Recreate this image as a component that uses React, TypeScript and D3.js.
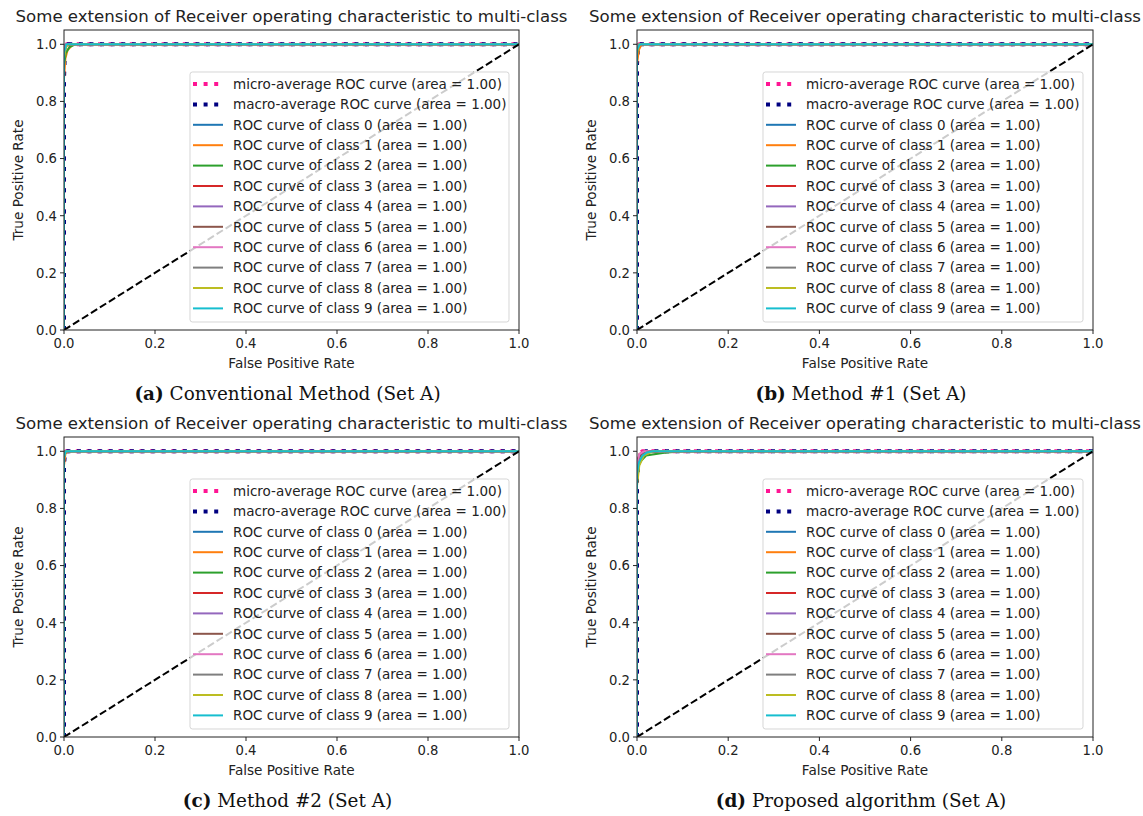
import React from "react";
import * as d3 from "d3";

const W = 1143;
const H = 816;

const titleText = "Some extension of Receiver operating characteristic to multi-class";
const xTicks = [0, 0.2, 0.4, 0.6, 0.8, 1.0];
const yTicks = [0, 0.2, 0.4, 0.6, 0.8, 1.0];
const classIds = [0, 1, 2, 3, 4, 5, 6, 7, 8, 9];
const classColors = ["#1f77b4", "#ff7f0e", "#2ca02c", "#d62728", "#9467bd", "#8c564b", "#e377c2", "#7f7f7f", "#bcbd22", "#17becf"];
const aucs = [1.0, 1.0, 1.0, 1.0, 1.0, 1.0, 1.0, 1.0, 1.0, 1.0];
const microAuc = 1.0;
const macroAuc = 1.0;
const captionLetters = ["(a)", "(b)", "(c)", "(d)"];
const captionNames = ["Conventional Method (Set A)", "Method #1 (Set A)", "Method #2 (Set A)", "Proposed algorithm (Set A)"];

// micro / macro average ROC points [fpr, tpr] per panel
const microA = [[0, 0], [0, 0.985], [0.002, 0.995], [0.006, 1], [1, 1]];
const macroA = [[0, 0], [0, 0.88], [0.002, 0.97], [0.01, 1], [1, 1]];
const microB = [[0, 0], [0, 0.99], [0.002, 1], [1, 1]];
const macroB = [[0, 0], [0, 0.93], [0.002, 0.98], [0.006, 1], [1, 1]];
const microC = [[0, 0], [0, 0.99], [0.002, 1], [1, 1]];
const macroC = [[0, 0], [0, 0.95], [0.002, 0.99], [0.005, 1], [1, 1]];
const microD = [[0, 0], [0, 0.97], [0.004, 0.99], [0.012, 1], [1, 1]];
const macroD = [[0, 0], [0, 0.9], [0.004, 0.97], [0.02, 1], [1, 1]];

// per-class ROC points [fpr, tpr]
const classesA = [
  [[0, 0], [0, 0.96], [0.004, 1], [1, 1]],
  [[0, 0], [0, 0.88], [0.003, 0.95], [0.008, 0.98], [0.02, 1], [1, 1]],
  [[0, 0], [0, 0.93], [0.004, 0.97], [0.012, 0.99], [0.025, 1], [1, 1]],
  [[0, 0], [0, 0.97], [0.004, 1], [1, 1]],
  [[0, 0], [0, 0.98], [0.003, 1], [1, 1]],
  [[0, 0], [0, 0.97], [0.005, 1], [1, 1]],
  [[0, 0], [0, 0.98], [0.004, 1], [1, 1]],
  [[0, 0], [0, 0.96], [0.006, 1], [1, 1]],
  [[0, 0], [0, 0.95], [0.004, 0.99], [0.01, 1], [1, 1]],
  [[0, 0], [0, 0.97], [0.005, 1], [1, 1]],
];
const classesB = [
  [[0, 0], [0, 0.98], [0.003, 1], [1, 1]],
  [[0, 0], [0, 0.93], [0.004, 0.98], [0.01, 1], [1, 1]],
  [[0, 0], [0, 0.97], [0.004, 1], [1, 1]],
  [[0, 0], [0, 0.98], [0.002, 1], [1, 1]],
  [[0, 0], [0, 0.99], [0.002, 1], [1, 1]],
  [[0, 0], [0, 0.98], [0.003, 1], [1, 1]],
  [[0, 0], [0, 0.99], [0.002, 1], [1, 1]],
  [[0, 0], [0, 0.97], [0.004, 1], [1, 1]],
  [[0, 0], [0, 0.97], [0.005, 1], [1, 1]],
  [[0, 0], [0, 0.98], [0.006, 1], [1, 1]],
];
const classesC = [
  [[0, 0], [0, 0.99], [0.002, 1], [1, 1]],
  [[0, 0], [0, 0.95], [0.003, 0.99], [0.008, 1], [1, 1]],
  [[0, 0], [0, 0.98], [0.004, 1], [1, 1]],
  [[0, 0], [0, 0.99], [0.002, 1], [1, 1]],
  [[0, 0], [0, 0.99], [0.002, 1], [1, 1]],
  [[0, 0], [0, 0.98], [0.003, 1], [1, 1]],
  [[0, 0], [0, 0.99], [0.002, 1], [1, 1]],
  [[0, 0], [0, 0.98], [0.003, 1], [1, 1]],
  [[0, 0], [0, 0.98], [0.004, 1], [1, 1]],
  [[0, 0], [0, 0.98], [0.004, 1], [1, 1]],
];
const classesD = [
  [[0, 0], [0, 0.93], [0.005, 0.98], [0.015, 1], [1, 1]],
  [[0, 0], [0, 0.9], [0.004, 0.95], [0.012, 0.98], [0.03, 1], [1, 1]],
  [[0, 0], [0, 0.9], [0.005, 0.96], [0.02, 0.985], [0.06, 0.995], [0.1, 1], [1, 1]],
  [[0, 0], [0, 0.95], [0.005, 0.99], [0.015, 1], [1, 1]],
  [[0, 0], [0, 0.94], [0.006, 0.985], [0.02, 1], [1, 1]],
  [[0, 0], [0, 0.93], [0.005, 0.98], [0.02, 1], [1, 1]],
  [[0, 0], [0, 0.95], [0.005, 0.99], [0.015, 1], [1, 1]],
  [[0, 0], [0, 0.92], [0.006, 0.97], [0.02, 0.995], [0.03, 1], [1, 1]],
  [[0, 0], [0, 0.88], [0.005, 0.95], [0.015, 0.985], [0.035, 1], [1, 1]],
  [[0, 0], [0, 0.92], [0.004, 0.96], [0.012, 0.985], [0.022, 0.996], [0.035, 1], [1, 1]],
];

const panelMicro = [microA, microB, microC, microD];
const panelMacro = [macroA, macroB, macroC, macroD];
const panelClasses = [classesA, classesB, classesC, classesD];

const FONT = "DejaVu Sans";
const TXT = "#222";

type Box = { left: number; top: number; right: number; bottom: number; };
const boxes: Box[] = [
  { left: 64, top: 30, right: 519, bottom: 330 },
  { left: 637, top: 30, right: 1093, bottom: 330 },
  { left: 64, top: 437, right: 519, bottom: 737 },
  { left: 637, top: 437, right: 1093, bottom: 737 },
];

function Panel({ idx }: { idx: number }) {
  const b = boxes[idx];
  const x = d3.scaleLinear().domain([0, 1]).range([b.left, b.right]);
  const y = d3.scaleLinear().domain([0, 1.05]).range([b.bottom, b.top]);
  const line = d3.line<number[]>().x((d) => x(d[0])).y((d) => y(d[1]));
  const clipId = `clip${idx}`;
  const cx = (b.left + b.right) / 2;
  const cy = (b.top + b.bottom) / 2;
  const legLeft = b.left + 126;
  const legRight = b.right - 10;
  const legTop = b.top + 42;
  const legBottom = b.bottom - 8;
  const rowH = 20.4;
  const entries = [
    { label: `micro-average ROC curve (area = ${microAuc.toFixed(2)})`, color: "deeppink", dotted: true },
    { label: `macro-average ROC curve (area = ${macroAuc.toFixed(2)})`, color: "navy", dotted: true },
    ...classIds.map((c, i) => ({ label: `ROC curve of class ${c} (area = ${aucs[i].toFixed(2)})`, color: classColors[i], dotted: false })),
  ];
  return (
    <g>
      <defs>
        <clipPath id={clipId}>
          <rect x={b.left} y={b.top} width={b.right - b.left} height={b.bottom - b.top} />
        </clipPath>
      </defs>
      <text x={cx} y={b.top - 8} textAnchor="middle" fontFamily={FONT} fontSize={16.6} fill={TXT}>{titleText}</text>
      <g clipPath={`url(#${clipId})`}>
        <path d={line(panelMicro[idx] as number[][]) || ""} fill="none" stroke="deeppink" strokeWidth={4} strokeDasharray="4 6.6" />
        <path d={line(panelMacro[idx] as number[][]) || ""} fill="none" stroke="navy" strokeWidth={4} strokeDasharray="4 6.6" />
        {panelClasses[idx].map((pts, i) => (
          <path key={i} d={line(pts as number[][]) || ""} fill="none" stroke={classColors[i]} strokeWidth={2} strokeLinejoin="round" />
        ))}
        <path d={line([[0, 0], [1, 1]]) || ""} fill="none" stroke="black" strokeWidth={2} strokeDasharray="7.4 3.2" />
      </g>
      {/* legend */}
      <rect x={legLeft} y={legTop} width={legRight - legLeft} height={legBottom - legTop} rx={2.5} fill="white" fillOpacity={0.8} stroke="#cccccc" strokeOpacity={0.8} strokeWidth={1} />
      {entries.map((e, i) => {
        const ry = legTop + 12 + i * rowH;
        return (
          <g key={i}>
            {e.dotted ? (
              <line x1={legLeft + 3} x2={legLeft + 33} y1={ry} y2={ry} stroke={e.color} strokeWidth={4} strokeDasharray="4 6.6" />
            ) : (
              <line x1={legLeft + 3} x2={legLeft + 33} y1={ry} y2={ry} stroke={e.color} strokeWidth={2} />
            )}
            <text x={legLeft + 43} y={ry + 4.8} fontFamily={FONT} fontSize={13.5} fill={TXT}>{e.label}</text>
          </g>
        );
      })}
      {/* frame */}
      <rect x={b.left} y={b.top} width={b.right - b.left} height={b.bottom - b.top} fill="none" stroke="#222" strokeWidth={1} />
      {xTicks.map((t) => (
        <g key={"x" + t}>
          <line x1={x(t)} x2={x(t)} y1={b.bottom} y2={b.bottom + 4} stroke="#222" />
          <text x={x(t)} y={b.bottom + 18} textAnchor="middle" fontFamily={FONT} fontSize={13.2} fill={TXT}>{t.toFixed(1)}</text>
        </g>
      ))}
      {yTicks.map((t) => (
        <g key={"y" + t}>
          <line x1={b.left - 4} x2={b.left} y1={y(t)} y2={y(t)} stroke="#222" />
          <text x={b.left - 7} y={y(t) + 4.8} textAnchor="end" fontFamily={FONT} fontSize={13.2} fill={TXT}>{t.toFixed(1)}</text>
        </g>
      ))}
      <text x={cx} y={b.bottom + 38} textAnchor="middle" fontFamily={FONT} fontSize={13.6} fill={TXT}>False Positive Rate</text>
      <text transform={`translate(${b.left - 41},${cy}) rotate(-90)`} textAnchor="middle" fontFamily={FONT} fontSize={13.6} fill={TXT}>True Positive Rate</text>
      <text x={cx - 4} y={b.bottom + 70} textAnchor="middle" fontFamily="DejaVu Serif" fontSize={18.4} fill="#111">
        <tspan fontWeight="bold">{captionLetters[idx]}</tspan>
        <tspan> {captionNames[idx]}</tspan>
      </text>
    </g>
  );
}

export default function App() {
  return (
    <svg width={W} height={H} style={{ position: "absolute", left: 0, top: 0, background: "white" }}>
      <rect x={0} y={0} width={W} height={H} fill="white" />
      {[0, 1, 2, 3].map((i) => (
        <Panel key={i} idx={i} />
      ))}
    </svg>
  );
}
